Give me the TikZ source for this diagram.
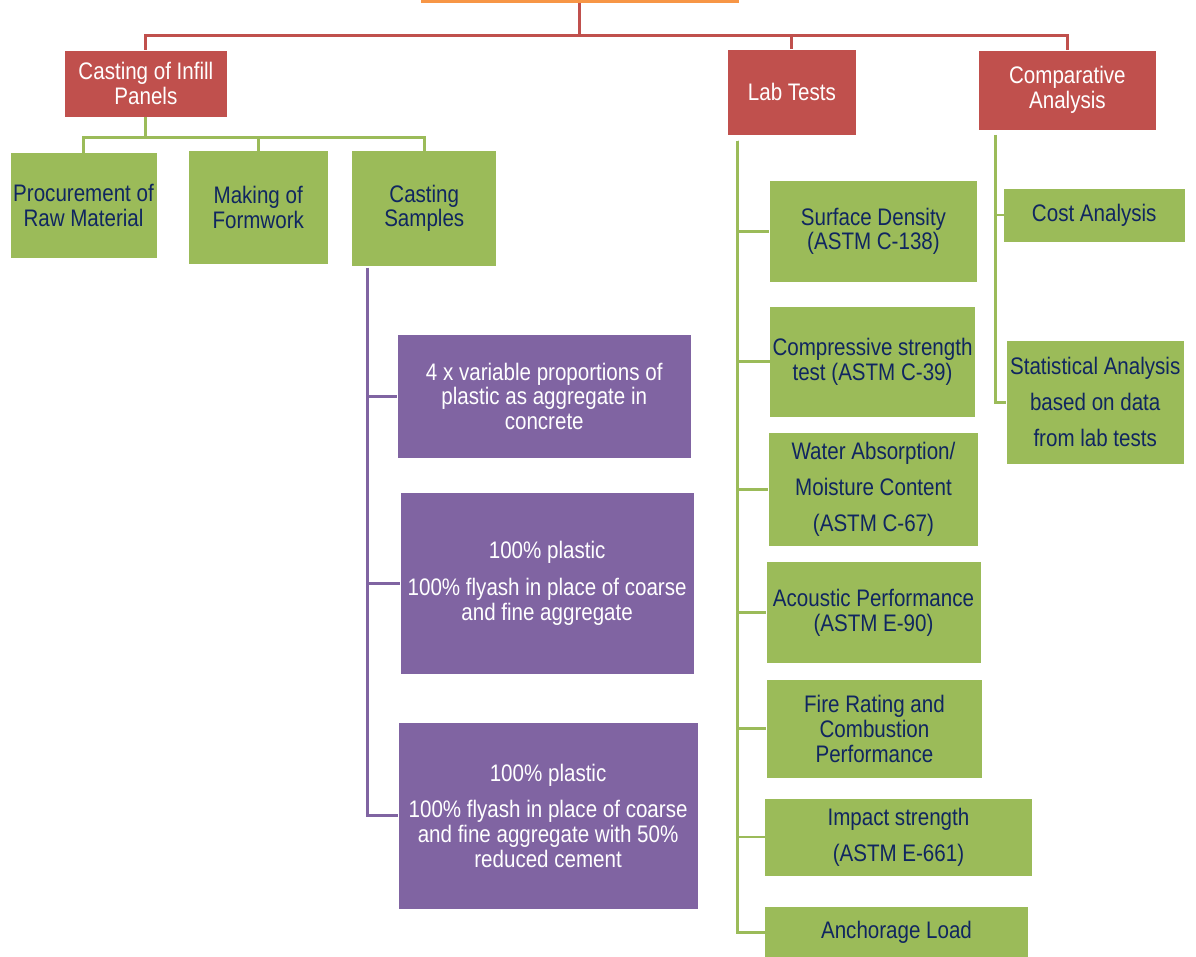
\documentclass[tikz,border=0pt]{standalone}
\usepackage{fontspec}
\setmainfont{Liberation Sans}[FakeStretch=0.86]
\usepackage{tikz}
\definecolor{RootOrange}{RGB}{247,150,70}
\definecolor{TopRed}{RGB}{192,80,77}
\definecolor{LeafGreen}{RGB}{155,187,89}
\definecolor{MixPurple}{RGB}{128,100,162}
\definecolor{TextNavy}{RGB}{16,38,96}
\tikzset{
  box/.style={shape=rectangle,draw=white,line width=0.5pt,inner sep=0pt,outer sep=0pt,align=center,font=\fontsize{18}{18.75}\selectfont},
  loose/.style={font=\fontsize{18}{27}\selectfont},
  rootbox/.style={box,fill=RootOrange},
  redbox/.style={box,fill=TopRed,text=white},
  greenbox/.style={box,fill=LeafGreen,text=TextNavy},
  purplebox/.style={box,fill=MixPurple,text=white},
  redline/.style={draw=TopRed,line width=2.2pt},
  greenline/.style={draw=LeafGreen,line width=2.2pt},
  purpleline/.style={draw=MixPurple,line width=2.2pt}
}

\begin{document}
\begin{tikzpicture}

\useasboundingbox (0in,0in) rectangle (12.46in,-9.96in);
\clip (0in,0in) rectangle (12.46in,-9.96in);

% root and first level
\path (6.04in,0.22in) node (goal) [rootbox,minimum width=3.33in,minimum height=0.5in]{};

\path (1.52in,-0.87in) node (cast) [redbox,minimum width=1.69in,minimum height=0.70in]{Casting of Infill\\Panels};

\path (8.25in,-0.96in) node (lab) [redbox,minimum width=1.35in,minimum height=0.89in]{Lab Tests};

\path (11.12in,-0.94in) node (comp) [redbox,minimum width=1.86in,minimum height=0.83in]{Comparative\\Analysis};

% casting steps
\path (0.87in,-2.14in) node (proc) [greenbox,minimum width=1.53in,minimum height=1.10in]{Procurement of\\Raw Material};

\path (2.69in,-2.16in) node (form) [greenbox,minimum width=1.46in,minimum height=1.18in]{Making of\\Formwork};

\path (4.42in,-2.17in) node (samp) [greenbox,minimum width=1.51in,minimum height=1.20in]{Casting\\Samples};

% sample mixes
\path (5.67in,-4.13in) node (mixa) [purplebox,minimum width=3.06in,minimum height=1.30in]{4 x variable proportions of\\plastic as aggregate in\\concrete};

\path (5.70in,-6.08in) node (mixb) [purplebox,minimum width=3.06in,minimum height=1.90in]{100\% plastic\\[9pt]100\% flyash in place of coarse\\and fine aggregate};

\path (5.71in,-8.50in) node (mixc) [purplebox,minimum width=3.13in,minimum height=1.94in]{100\% plastic\\[9pt]100\% flyash in place of coarse\\and fine aggregate with 50\%\\reduced cement};

% lab tests
\path (9.10in,-2.41in) node (dens) [greenbox,minimum width=2.17in,minimum height=1.07in]{Surface Density\\(ASTM C-138)};

\path (9.09in,-3.77in) node (cstr) [greenbox,minimum width=2.14in,minimum height=1.15in]{Compressive strength\\test (ASTM C-39)};

\path (9.10in,-5.10in) node (water) [greenbox,loose,minimum width=2.19in,minimum height=1.19in]{Water Absorption/\\Moisture Content\\(ASTM C-67)};

\path (9.10in,-6.38in) node (acou) [greenbox,minimum width=2.24in,minimum height=1.06in]{Acoustic Performance\\(ASTM E-90)};

\path (9.11in,-7.59in) node (fire) [greenbox,minimum width=2.25in,minimum height=1.03in]{Fire Rating and\\Combustion\\Performance};

\path (9.36in,-8.72in) node (impact) [greenbox,loose,minimum width=2.79in,minimum height=0.81in]{Impact strength\\(ASTM E-661)};

\path (9.34in,-9.71in) node (anch) [greenbox,minimum width=2.75in,minimum height=0.54in]{Anchorage Load};

% comparative analysis
\path (11.40in,-2.24in) node (cost) [greenbox,minimum width=1.89in,minimum height=0.56in]{Cost Analysis};

\path (11.41in,-4.19in) node (stat) [greenbox,loose,minimum width=1.86in,minimum height=1.29in]{Statistical Analysis\\based on data\\from lab tests};

% connectors
\draw[redline] (goal.south) -- ++(0in,-0.34in) coordinate (hub);
\draw[redline] (hub) -| (cast.north);
\draw[redline] (hub) -| (lab.north);
\draw[redline] (hub) -| (comp.north);

\draw[greenline] (cast.south) -- ++(0in,-0.21in) coordinate (castjoint);
\draw[greenline] (castjoint) -| (proc.north);
\draw[greenline] (castjoint) -| (form.north);
\draw[greenline] (castjoint) -| (samp.north);

\coordinate (samptop) at ([xshift=0.16in,yshift=-0.02in]samp.south west);
\draw[purpleline] (samptop) |- (mixa.west);
\draw[purpleline] (samptop) |- (mixb.west);
\draw[purpleline] (samptop) |- (mixc.west);

\coordinate (labtop) at ([xshift=0.11in,yshift=-0.06in]lab.south west);
\draw[greenline] (labtop) |- (dens.west);
\draw[greenline] (labtop) |- (cstr.west);
\draw[greenline] (labtop) |- (water.west);
\draw[greenline] (labtop) |- (acou.west);
\draw[greenline] (labtop) |- (fire.west);
\draw[greenline] (labtop) |- (impact.west);
\draw[greenline] (labtop) |- (anch.west);

\coordinate (comptop) at ([xshift=0.18in,yshift=-0.05in]comp.south west);
\draw[greenline] (comptop) |- (cost.west);
\draw[greenline] (comptop) |- (stat.west);

\end{tikzpicture}
\end{document}
